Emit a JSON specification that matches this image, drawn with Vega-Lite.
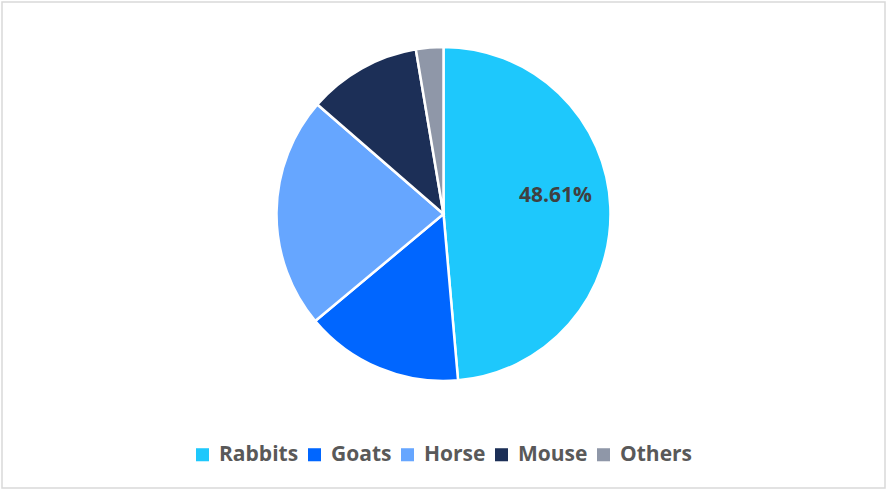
{
  "$schema": "https://vega.github.io/schema/vega-lite/v6.json",
  "width": 887,
  "height": 490,
  "autosize": {"type": "fit", "contains": "padding"},
  "padding": 2,
  "background": "white",
  "view": {"stroke": "#d9d9d9", "strokeWidth": 1.5},
  "config": {
    "view": {"stroke": "#d9d9d9", "strokeWidth": 1.5},
    "font": "Open Sans"
  },
  "data": {
    "values": [
      {"animal": "Rabbits", "share": 48.61},
      {"animal": "Goats", "share": 15.33},
      {"animal": "Horse", "share": 22.44},
      {"animal": "Mouse", "share": 10.97},
      {"animal": "Others", "share": 2.65}
    ]
  },
  "transform": [
    {"calculate": "indexof(['Rabbits', 'Goats', 'Horse', 'Mouse', 'Others'], datum.animal)", "as": "rank"}
  ],
  "encoding": {
    "theta": {"field": "share", "type": "quantitative", "stack": true},
    "order": {"field": "rank", "type": "quantitative", "sort": "ascending"},
    "color": {
      "field": "animal",
      "type": "nominal",
      "sort": ["Rabbits", "Goats", "Horse", "Mouse", "Others"],
      "scale": {
        "domain": ["Rabbits", "Goats", "Horse", "Mouse", "Others"],
        "range": ["#1ec8fc", "#0066ff", "#66a6ff", "#1c2f57", "#8f97a8"]
      },
      "legend": {
        "title": null,
        "orient": "none",
        "direction": "horizontal",
        "legendX": 190,
        "legendY": 442,
        "padding": 0,
        "symbolType": "square",
        "symbolSize": 170,
        "symbolStrokeWidth": 0,
        "labelFont": "Open Sans",
        "labelFontSize": 21,
        "labelFontWeight": "bold",
        "labelColor": "#595959",
        "labelOffset": 6,
        "columnPadding": 5
      }
    }
  },
  "layer": [
    {
      "mark": {
        "type": "arc",
        "radius": 167,
        "stroke": "white",
        "strokeWidth": 2.5,
        "y": {"expr": "height/2 - 31"}
      }
    },
    {
      "transform": [
        {"calculate": "datum.animal === 'Rabbits' ? format(datum.share, '.2f') + '%' : ''", "as": "label"}
      ],
      "mark": {
        "type": "text",
        "radius": 114,
        "fontSize": 21,
        "fontWeight": "bold",
        "font": "Open Sans",
        "color": "#404040",
        "dy": -13,
        "dx": -2,
        "y": {"expr": "height/2 - 31"}
      },
      "encoding": {
        "text": {"field": "label"},
        "color": {"value": "#404040"}
      }
    }
  ]
}
